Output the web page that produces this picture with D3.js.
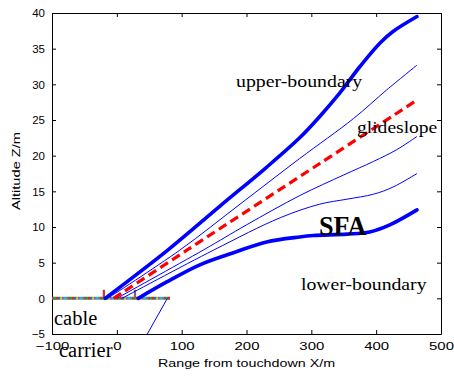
<!DOCTYPE html>
<html>
<head>
<meta charset="utf-8">
<script src="https://cdn.jsdelivr.net/npm/d3@7/dist/d3.min.js"></script>
<style>
  body { margin: 0; background: #fff; }
</style>
</head>
<body>
<svg id="chart" width="454" height="376"></svg>
<script>
// values (x: range m, z: altitude m)
const upperX = [-18, 79, 160, 230, 282, 313, 344, 375, 406, 426, 463];
const upperZ = [0, 6.8, 13.0, 18.3, 22.5, 25.5, 28.8, 32.5, 35.8, 37.4, 39.5];

const thin1X = [-14, 97, 190, 282, 365, 416, 463];
const thin1Z = [0, 6.75, 13.2, 19.6, 25.2, 29.2, 32.7];

const glideX = [-5, 108, 313, 463];
const glideZ = [0, 6.75, 18.9, 27.8];

const thin3X = [0, 133, 200, 282, 350, 396, 431, 463];
const thin3Z = [0, 6.75, 10.3, 14.4, 17.3, 19.2, 20.8, 22.7];

const thin4X = [8, 149, 252, 313, 355, 396, 426, 463];
const thin4Z = [0, 6.75, 11.3, 13.2, 13.9, 14.6, 15.6, 17.5];

const lowerX = [33, 77, 128, 180, 231, 282, 303, 355, 390, 421, 463];
const lowerZ = [0, 2.3, 4.7, 6.4, 7.9, 8.6, 8.8, 9.0, 9.3, 10.3, 12.4];

const deckX = [78, 47];
const deckZ = [0, -5];

const cableX = [-100, 82];
const cableZ = [0, 0];
const cableColors = ["#8c564b", "#2ca02c", "#d62728", "#1f77b4", "#bcbd22", "#9467bd", "#17becf", "#7f7f7f"];

const postX = [-20, 28];
const postZ = [1.2, 1.2];
const postColors = ["#b83838", "#7a6868"];

const xTicks = [-100, 0, 100, 200, 300, 400, 500];
const yTicks = [-5, 0, 5, 10, 15, 20, 25, 30, 35, 40];

const plotLeft = 52, plotRight = 441, plotTop = 13, plotBottom = 334;

const svg = d3.select('#chart');

const x = d3.scaleLinear().domain([-100, 500]).range([plotLeft, plotRight]);
const y = d3.scaleLinear().domain([-5, 40]).range([plotBottom, plotTop]);

const zip = (xs, zs) => xs.map((v, i) => [v, zs[i]]);

const line = d3.line()
    .x(d => x(d[0]))
    .y(d => y(d[1]))
    .curve(d3.curveCatmullRom.alpha(0.5));

const straight = d3.line()
    .x(d => x(d[0]))
    .y(d => y(d[1]));

// text with its own width stretch
function label(txt, px, py, opts) {
    svg.append('text')
        .attr('transform', `translate(${px},${py}) rotate(${opts.rot || 0}) scale(${opts.sx || 1},1)`)
        .attr('text-anchor', opts.anchor || 'start')
        .style('font-family', opts.family || '"Liberation Serif", "Times New Roman", serif')
        .style('font-size', opts.size + 'px')
        .style('font-weight', opts.weight || 'normal')
        .style('fill', '#000')
        .text(txt);
}

// axes, ticks pointing inward on all four sides
const axisFont = '"Liberation Sans", Arial, sans-serif';

const gx = svg.append('g')
    .attr('transform', `translate(0,${plotBottom})`)
    .call(d3.axisBottom(x).tickValues(xTicks).tickSizeInner(-4).tickSizeOuter(0).tickPadding(8));
gx.selectAll('text')
    .style('font-family', axisFont)
    .style('font-size', '11.5px')
    .attr('transform', 'scale(1.3,1)');

const gy = svg.append('g')
    .attr('transform', `translate(${plotLeft},0)`)
    .call(d3.axisLeft(y).tickValues(yTicks).tickSizeInner(-4).tickSizeOuter(0).tickPadding(7));
gy.selectAll('text')
    .style('font-family', axisFont)
    .style('font-size', '11.5px');

svg.append('g')
    .attr('transform', `translate(0,${plotTop})`)
    .call(d3.axisTop(x).tickValues(xTicks).tickSizeInner(-4).tickSizeOuter(0).tickFormat(''));

svg.append('g')
    .attr('transform', `translate(${plotRight},0)`)
    .call(d3.axisRight(y).tickValues(yTicks).tickSizeInner(-4).tickSizeOuter(0).tickFormat(''));

svg.selectAll('.domain').style('stroke', '#000');
svg.selectAll('.tick line').style('stroke', '#000');

// cable on the deck: several coloured dashes on one line
cableColors.forEach((c, i) => {
    svg.append('path')
        .attr('d', straight(zip(cableX, cableZ)))
        .style('fill', 'none')
        .style('stroke', c)
        .style('stroke-width', 3)
        .style('stroke-dasharray', `2,${2 * (cableColors.length - 1)}`)
        .style('stroke-dashoffset', -2 * i);
});

// small posts on the deck
svg.selectAll('.post')
    .data(postX.map((v, i) => ({x: v, z: postZ[i], c: postColors[i]})))
    .enter().append('line')
    .attr('class', 'post')
    .attr('x1', d => x(d.x))
    .attr('x2', d => x(d.x))
    .attr('y1', y(0))
    .attr('y2', d => y(d.z))
    .style('stroke', d => d.c)
    .style('stroke-width', 2.2);

// thin carrier edge going down
svg.append('path')
    .attr('d', straight(zip(deckX, deckZ)))
    .style('fill', 'none')
    .style('stroke', '#0000ff')
    .style('stroke-width', 1);

const thinSeries = [zip(thin1X, thin1Z), zip(thin3X, thin3Z), zip(thin4X, thin4Z)];
svg.selectAll('.thin')
    .data(thinSeries)
    .enter().append('path')
    .attr('class', 'thin')
    .attr('d', line)
    .style('fill', 'none')
    .style('stroke', '#0000ff')
    .style('stroke-width', 1);

const thickSeries = [zip(upperX, upperZ), zip(lowerX, lowerZ)];
svg.selectAll('.bound')
    .data(thickSeries)
    .enter().append('path')
    .attr('class', 'bound')
    .attr('d', line)
    .style('fill', 'none')
    .style('stroke', '#0000ff')
    .style('stroke-width', 3.6)
    .style('stroke-linecap', 'round');

svg.append('path')
    .attr('d', line(zip(glideX, glideZ)))
    .style('fill', 'none')
    .style('stroke', '#ff0000')
    .style('stroke-width', 3.2)
    .style('stroke-dasharray', '9,5');

// axis titles
label('Range from touchdown X/m', (plotLeft + plotRight) / 2, 367, {family: axisFont, size: 11, sx: 1.3, anchor: 'middle'});
label('Altitude Z/m', 20, 171, {family: axisFont, size: 11, sx: 1.33, anchor: 'middle', rot: -90});

// annotations
label('upper-boundary', 236, 87, {size: 16, sx: 1.24});
label('glideslope', 357, 133, {size: 17, sx: 1.15});
label('lower-boundary', 301, 290, {size: 17, sx: 1.16});
label('SFA', 319, 235, {size: 27, sx: 0.97, weight: 'bold'});
label('cable', 54, 325, {size: 20.5});
label('carrier', 59, 357, {size: 20.5});
</script>
</body>
</html>
